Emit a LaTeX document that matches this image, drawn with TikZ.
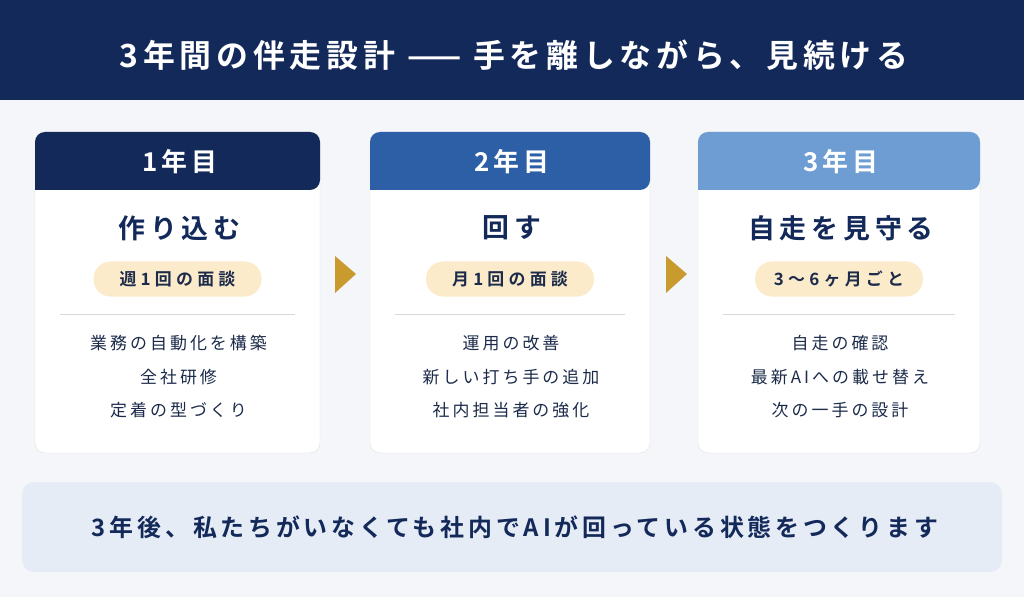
\documentclass[tikz,border=0pt]{standalone}
\usepackage{fontspec}
\setmainfont{Noto Sans CJK JP}
\newfontfamily\jb{Noto Sans CJK JP}[BoldFont={Noto Sans CJK JP Bold}]
\newcommand\lsp[1]{\addfontfeatures{LetterSpace=#1}}
\begin{document}
\definecolor{navy}{HTML}{13295A}
\definecolor{blue2}{HTML}{2C5FA5}
\definecolor{blue3}{HTML}{6E9DD3}
\definecolor{bg}{HTML}{F4F6FA}
\definecolor{cream}{HTML}{FBEBCB}
\definecolor{gold}{HTML}{C99A2E}
\definecolor{foot}{HTML}{E5ECF6}
\definecolor{txt}{HTML}{1C2B4A}
\begin{tikzpicture}[x=1bp,y=-1bp,
  hd/.style={text=white,font=\jb\bfseries\fontsize{26}{29}\selectfont\lsp{15}},
  ttl/.style={text=navy,font=\jb\bfseries\fontsize{27}{30}\selectfont\lsp{18}},
  pill/.style={fill=cream,rounded corners=17bp,minimum width=168bp,minimum height=35bp,text=txt,font=\jb\bfseries\fontsize{17}{20}\selectfont\lsp{25}},
  item/.style={text=txt,font=\jb\fontsize{17}{20}\selectfont\lsp{18}},
  card/.style={fill=white,draw=gray!25,rounded corners=10bp},
  arr/.style={fill=gold}]
\useasboundingbox (0,0) rectangle (1024,597);
\fill[bg] (0,0) rectangle (1024,597);
\fill[navy] (0,0) rectangle (1024,100);
\node[text=white,font=\jb\bfseries\fontsize{32}{36}\selectfont\lsp{15}] (title) at (514,55) {3年間の伴走設計 —— 手を離しながら、見続ける};
\foreach \i/\xa/\xb/\c/\y/\t/\p/\a/\b/\cc in {
 1/35/320/navy/1年目/作り込む/週1回の面談/業務の自動化を構築/全社研修/定着の型づくり,
 2/370/650/blue2/2年目/回す/月1回の面談/運用の改善/新しい打ち手の追加/社内担当者の強化,
 3/698/980/blue3/3年目/自走を見守る/3〜6ヶ月ごと/自走の確認/最新AIへの載せ替え/次の一手の設計}{
  \pgfmathsetmacro\xm{(\xa+\xb)/2}
  \draw[card] (\xa,132) rectangle (\xb,453);
  \fill[\c,rounded corners=10bp] (\xa,190) -- (\xa,132) -- (\xb,132) -- (\xb,190) [sharp corners] -- cycle;
  \node[hd] (h\i) at (\xm+2,162) {\y};
  \node[ttl] (t\i) at (\xm+2,228) {\t};
  \node[pill] (p\i) at (\xm,279) {\p};
  \draw[gray!30] (\xa+25,314) -- (\xb-25,314);
  \node[item] (a\i) at (\xm+1,343) {\a};
  \node[item] (b\i) at (\xm+1,377) {\b};
  \node[item] (c\i) at (\xm+1,410) {\cc};
}
\fill[arr] (335,256) -- (356,274) -- (335,293) -- cycle;
\fill[arr] (666,256) -- (687,274) -- (666,293) -- cycle;
\fill[foot,rounded corners=12bp] (22,482) rectangle (1002,572);
\node[text=navy,font=\jb\bfseries\fontsize{24}{28}\selectfont\lsp{16}] (f) at (515,527) {3年後、私たちがいなくても社内でAIが回っている状態をつくります};
\end{tikzpicture}
\end{document}
